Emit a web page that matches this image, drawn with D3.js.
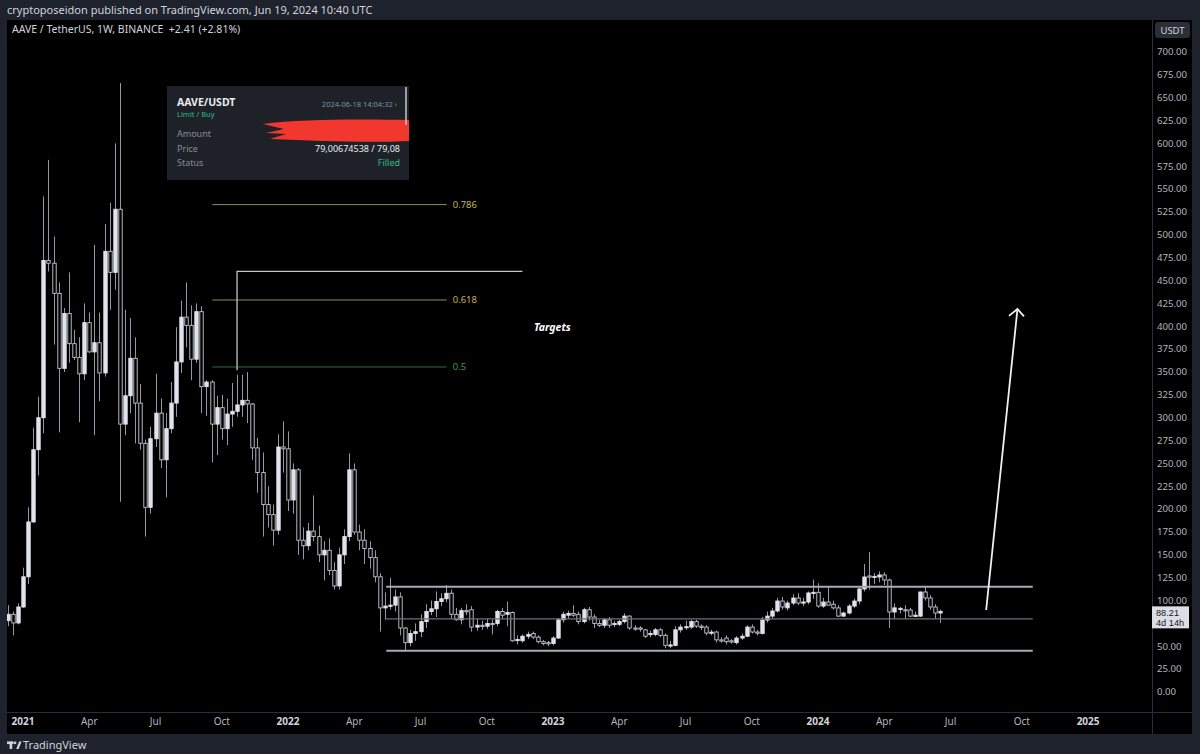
<!DOCTYPE html>
<html><head><meta charset="utf-8">
<script src="https://cdn.jsdelivr.net/npm/d3@7"></script>
<style>
html,body{margin:0;padding:0;background:#1e222d;}
svg{display:block;font-family:"Noto Sans",Roboto,"DejaVu Sans",sans-serif;}
</style></head>
<body><svg id="chart" width="1200" height="754"></svg>
<script>
// ---------- data ----------
const START_WEEK = "2020-12-14";
const OPEN  = [78,85,75.5,93,126,186,265,300,472,469,436,354,414,381,366,348,404,372,382,349,482,459,528,293,324,365,316,272,202,277,305,254,288,316,361,410,401,364,416,334,339,293,311,288,304,307,314,319,315,267,240,205,194,177,268,266,210,243,166,160,176,170,150,155,133,116,150,170,243,175,166,157,147,126,92,94,95,104,70,54,64,66,77,88,91,99,102,108,85,79,89,90,71,73,72,75,75,88,85,87,57,56,61,64,60,55,54,53,59,79,84,86,85,77,90,82,75,73,79,74,74,77,83,70,70,68,63,63,68,62,51,51,68,71,71,77,72,71,65,65.6,57,59,56,54,59,61,71,65.6,64,78.7,83,88.6,99.5,92,97.3,102.8,98,98.4,108,109,94,98.4,96,92,83,86.4,94,99.5,112.7,126.9,125.8,125.8,128,122.5,87.5,91,90,89.7,83,83,109.4,102.8,93,86.4];
const HIGH  = [95,88,97,136,202,289,323,542,582,498,448,420,459,396,388,425,415,489,415,512,535,600,666,418,409,388,337,276,290,348,321,305,339,399,428,448,423,425,422,341,341,324,325,321,338,347,347,350,316,278,262,225,205,282,296,285,250,245,180,185,215,182,165,168,142,158,178,261,250,183,178,165,155,130,109,125,112,109,71,68,75,85,96,100,110,108,117,112,92,92,96,94,80,78,80,79,90,92,99,88,62,63,66,66,62,57,56,61,81,88,89,95,88,92,93,85,79,81,82,78,79,86,84,73,72,69,67,70,70,64,56,72,74,78,79,79,74,73,68,67,60,62,58,61,64,73,74,68,82,88,92,103,104,100,107,108,103,110,123,119,103,115,100,95,88,96,102,114,140,153,130,132,131,124,97,93,95,92,88,110,116,106,96,90];
const LOW   = [72,62,74,92,118,185,237,283,460,380,284,350,360,363,295,341,371,281,318,345,418,440,208,281,305,272,265,170,195,268,245,213,283,301,349,377,341,360,305,302,251,259,276,270,290,301,301,294,254,218,170,180,160,172,240,198,195,150,145,155,165,142,122,128,112,112,140,165,172,155,140,135,120,66,79,90,88,62,46,50,56,60,70,84,82,94,98,80,78,74,84,66,67,68,69,63,72,80,72,55,52,54,58,58,53,51,50,51,58,76,80,82,74,75,78,70,71,70,70,71,72,75,68,67,66,59,60,61,60,48,48,50,65,68,69,70,68,62,62,54,54,52,53,52,57,60,64,62,63,76,80,87,90,89,95,95,94,96,102,92,92,95,90,82,82,85,92,96,110,112,118,120,117,70,80,86,80,82,82,82,100,90,80,75.5];
const CLOSE = [85,75.5,93,126,186,265,300,472,469,436,354,414,381,366,348,404,372,382,349,482,459,528,293,324,365,316,272,202,277,305,254,288,316,361,410,401,364,416,334,339,293,311,288,304,307,314,319,315,267,240,205,194,177,268,266,210,243,166,160,176,170,150,155,133,116,150,170,243,175,166,157,147,126,92,94,95,104,70,54,64,66,77,88,91,99,102,108,85,79,89,88,71,73,72,75,74,88,84,87,56,57.5,61,63,60,55,53,53,59,79,85,86,84,77,90,82,75,73,79,73,75,77,83,70,69,69,61,64,68,62,51,51.5,68,71,71.5,77,72,70.5,64.5,65.5,57,56,55,55,59,61,71,65.6,64.5,78.7,83,88.6,99.5,93,97.3,102.8,97.3,98.5,108.3,109,94,98.4,95,92,83,86.4,94,99.5,112.7,125.8,125.8,126.5,128,122.5,87.5,92,91.5,89.5,83,84,109.4,102.8,93,86.4,88.21];

const PRICE_TICKS = [0,25,50,100,125,150,175,200,225,250,275,300,325,350,375,400,425,450,475,500,525,550,575,600,625,650,675,700];
const TIME_TICKS  = ["2021-01-04","2021-04-05","2021-07-05","2021-10-04","2022-01-03","2022-04-04","2022-07-04","2022-10-03","2023-01-02","2023-04-03","2023-07-03","2023-10-02","2024-01-01","2024-04-01","2024-07-01","2024-10-07","2025-01-06"];
const TIME_LABELS = ["2021","Apr","Jul","Oct","2022","Apr","Jul","Oct","2023","Apr","Jul","Oct","2024","Apr","Jul","Oct","2025"];
const YEAR_LABELS = ["2021","2022","2023","2024","2025"];

const RANGE_LEVELS = [115, 80, 45];
const RANGE_DATES  = ["2022-05-18","2024-10-22"];
const FIB_RATIOS   = [0.786, 0.618, 0.5];
const FIB_LOW = 45, FIB_HIGH = 666;
const FIB_DATES    = ["2021-09-21","2022-08-09"];
const BRACKET_PTS  = [["2021-10-25",352],["2021-10-25",460],["2022-11-21",460]];
const ARROW_PTS    = [["2024-08-19",89.7],["2024-10-01",419]];
const TARGET_NOTE  = ["2022-12-07",399,"Targets"];
const LAST_PRICE = 88.21, LAST_TIMER = "4d 14h";

// ---------- setup ----------
const svg = d3.select("#chart");
const P = d3.utcParse("%Y-%m-%d");
const x = d3.scaleUtc().domain([P("2022-01-03"), P("2024-01-01")]).range([288, 818]);
const y = d3.scaleLinear().domain([0, 700]).range([692, 52]);
const pane = {l:7, t:20, r:1192, b:734, axisX:1152.5, axisY:712.5};

svg.append("rect").attr("width",1200).attr("height",754).attr("fill","#1e222d");
svg.append("rect").attr("x",pane.l).attr("y",pane.t).attr("width",pane.r-pane.l).attr("height",pane.b-pane.t).attr("fill","#000");

svg.append("defs").append("clipPath").attr("id","plot")
  .append("rect").attr("x",pane.l).attr("y",pane.t).attr("width",pane.axisX-pane.l).attr("height",pane.axisY-pane.t);

// separators
svg.append("line").attr("x1",pane.axisX).attr("x2",pane.axisX).attr("y1",pane.t).attr("y2",pane.b).attr("stroke","#2a2e39");
svg.append("line").attr("x1",pane.l).attr("x2",pane.r).attr("y1",pane.axisY).attr("y2",pane.axisY).attr("stroke","#2a2e39");

// header texts
svg.append("text").attr("x",7).attr("y",14).attr("fill","#d1d4dc").attr("font-size",11)
  .text("cryptoposeidon published on TradingView.com, Jun 19, 2024 10:40 UTC");
svg.append("text").attr("x",12).attr("y",33).attr("fill","#d1d4dc").attr("font-size",10.5)
  .text("AAVE / TetherUS, 1W, BINANCE  +2.41 (+2.81%)").attr("xml:space","preserve");

// ---------- candles ----------
const start = P(START_WEEK);
const bars = OPEN.map((o,i)=>({date:d3.utcDay.offset(start,7*i),o,h:HIGH[i],l:LOW[i],c:CLOSE[i]}));
const g = svg.append("g").attr("clip-path","url(#plot)");
const bw = 3.4;
g.selectAll("line.wick").data(bars).join("line")
  .attr("x1",d=>Math.round(x(d.date))+0.5).attr("x2",d=>Math.round(x(d.date))+0.5)
  .attr("y1",d=>y(d.h)).attr("y2",d=>y(d.l)).attr("stroke","#9598a1").attr("stroke-width",1);
g.selectAll("rect.body").data(bars).join("rect")
  .attr("x",d=>Math.round(x(d.date))+0.5-bw/2)
  .attr("y",d=>y(Math.max(d.o,d.c)))
  .attr("width",bw)
  .attr("height",d=>Math.max(1.2,Math.abs(y(d.o)-y(d.c))))
  .attr("fill",d=>d.c>=d.o?"#e0e3eb":"#000")
  .attr("stroke",d=>d.c>=d.o?"#e0e3eb":"#c9ccd4").attr("stroke-width",0.9);

// ---------- drawings ----------
const fibColors = ["#8f8c52","#8f8c52","#2f6f35"];
const fibText = ["#c2b35a","#c2b35a","#3d9a45"];
FIB_RATIOS.forEach((r,k)=>{
  const v = FIB_LOW + r*(FIB_HIGH-FIB_LOW);
  svg.append("line").attr("x1",x(P(FIB_DATES[0]))).attr("x2",x(P(FIB_DATES[1])))
    .attr("y1",y(v)).attr("y2",y(v)).attr("stroke",fibColors[k]).attr("stroke-width",1);
  svg.append("text").attr("x",x(P(FIB_DATES[1]))+6).attr("y",y(v)+3.5)
    .attr("fill",fibText[k]).attr("font-size",9.5).text(String(r));
});

svg.append("path")
  .attr("d",d3.line().x(d=>x(P(d[0]))).y(d=>y(d[1]))(BRACKET_PTS))
  .attr("fill","none").attr("stroke","#c4c4c4").attr("stroke-width",1.3);

RANGE_LEVELS.forEach((v,k)=>{
  svg.append("line").attr("x1",x(P(RANGE_DATES[0]))).attr("x2",x(P(RANGE_DATES[1])))
    .attr("y1",y(v)).attr("y2",y(v))
    .attr("stroke",k===1?"#6f7178":"#a9abb1").attr("stroke-width",k===1?1.2:2);
});

// arrow
const a0=[x(P(ARROW_PTS[0][0])),y(ARROW_PTS[0][1])], a1=[x(P(ARROW_PTS[1][0])),y(ARROW_PTS[1][1])];
svg.append("line").attr("x1",a0[0]).attr("y1",a0[1]).attr("x2",a1[0]).attr("y2",a1[1]).attr("stroke","#f0f0f0").attr("stroke-width",1.8);
svg.append("path").attr("d",`M${a1[0]-8.5},${a1[1]+7} L${a1[0]},${a1[1]} L${a1[0]+6.5},${a1[1]+7.5}`)
  .attr("fill","none").attr("stroke","#f0f0f0").attr("stroke-width",1.8);

svg.append("text").attr("x",x(P(TARGET_NOTE[0]))).attr("y",y(TARGET_NOTE[1])+4)
  .attr("fill","#ffffff").attr("font-size",10.5).attr("font-weight","bold").attr("font-style","italic")
  .text(TARGET_NOTE[2]);

// ---------- order screenshot box ----------
const box = svg.append("g");
box.append("rect").attr("x",167).attr("y",86).attr("width",242).attr("height",94).attr("fill","#1e2228");
box.append("text").attr("x",177).attr("y",106).attr("fill","#eaecef").attr("font-size",10.5).attr("font-weight","bold").text("AAVE/USDT");
box.append("text").attr("x",177).attr("y",117).attr("fill","#2ebd85").attr("font-size",7.5).text("Limit / Buy");
box.append("text").attr("x",397).attr("y",107).attr("text-anchor","end").attr("fill","#848e9c").attr("font-size",7.5).text("2024-06-18 14:04:32  ›");
box.append("text").attr("x",177).attr("y",137).attr("fill","#848e9c").attr("font-size",9).text("Amount");
box.append("text").attr("x",177).attr("y",152).attr("fill","#848e9c").attr("font-size",9).text("Price");
box.append("text").attr("x",177).attr("y",166).attr("fill","#848e9c").attr("font-size",9).text("Status");
box.append("text").attr("x",400).attr("y",152).attr("text-anchor","end").attr("fill","#eaecef").attr("font-size",9).text("79,00674538 / 79,08");
box.append("text").attr("x",400).attr("y",166).attr("text-anchor","end").attr("fill","#2ebd85").attr("font-size",9).text("Filled");
box.append("path").attr("d","M263,124 C300,119 360,119 409,120 L409,141 C370,143 320,141 270,139 L286,134 L266,133 L284,129 Z").attr("fill","#f2372e");
box.append("line").attr("x1",406).attr("x2",406).attr("y1",87).attr("y2",125).attr("stroke","#c8c8c8").attr("stroke-width",1.5);

// ---------- price axis ----------
const ya = svg.append("g");
ya.selectAll("text").data(PRICE_TICKS).join("text")
  .attr("x",1157).attr("y",d=>y(d)+3.3).attr("fill","#b2b5be").attr("font-size",9.6)
  .text(d=>d3.format(".2f")(d));
svg.append("rect").attr("x",1155).attr("y",22).attr("width",35).attr("height",16).attr("rx",3).attr("fill","#2a2e39");
svg.append("text").attr("x",1172.5).attr("y",33.5).attr("text-anchor","middle").attr("fill","#d1d4dc").attr("font-size",9.5).text("USDT");
const py = y(LAST_PRICE);
svg.append("rect").attr("x",1152).attr("y",py-5).attr("width",37).attr("height",22).attr("fill","#dcdee5");
svg.append("text").attr("x",1156).attr("y",py+4.4).attr("fill","#131722")
  .attr("font-family","'Liberation Sans',Arial,sans-serif").attr("font-size",9.2).text(d3.format(".2f")(LAST_PRICE));
svg.append("text").attr("x",1156).attr("y",py+14.6).attr("fill","#131722")
  .attr("font-family","'Liberation Sans',Arial,sans-serif").attr("font-size",9.2).text(LAST_TIMER);

// ---------- time axis ----------
const xa = svg.append("g");
xa.selectAll("text").data(TIME_TICKS).join("text")
  .attr("x",d=>x(P(d))).attr("y",725).attr("text-anchor","middle")
  .attr("fill",(d,i)=>YEAR_LABELS.includes(TIME_LABELS[i])?"#d1d4dc":"#b2b5be")
  .attr("font-weight",(d,i)=>YEAR_LABELS.includes(TIME_LABELS[i])?"bold":"normal")
  .attr("font-size",10).text((d,i)=>TIME_LABELS[i]);

// ---------- footer logo ----------
const lg = svg.append("g").attr("fill","#d1d4dc");
lg.append("rect").attr("x",7).attr("y",741.5).attr("width",6.5).attr("height",2.6);
lg.append("rect").attr("x",9.6).attr("y",741.5).attr("width",2.6).attr("height",7.5);
lg.append("circle").attr("cx",15).attr("cy",742.8).attr("r",1.4);
lg.append("path").attr("d","M16.2,749 L19.2,741.5 L21.6,741.5 L18.6,749 Z");
svg.append("text").attr("x",23).attr("y",749).attr("fill","#d1d4dc").attr("font-size",11).text("TradingView");
</script></body></html>
